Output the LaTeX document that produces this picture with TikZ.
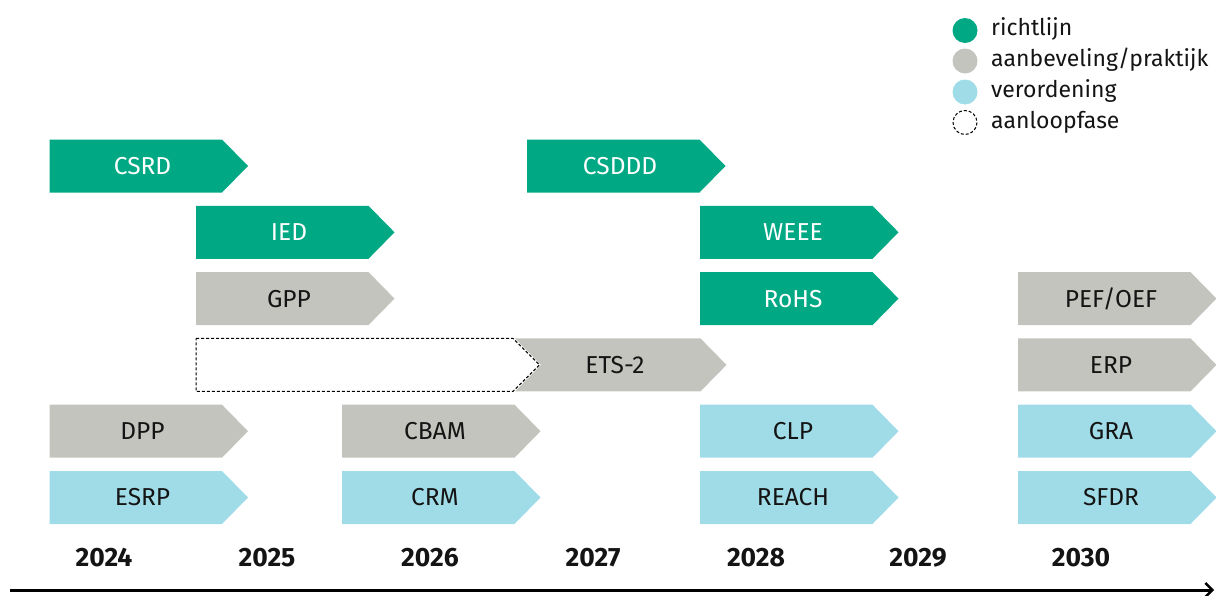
\documentclass[tikz,border=0pt]{standalone}
\usepackage{fontspec}
\setmainfont{Fira Sans}
\usetikzlibrary{arrows.meta}
\definecolor{cgreen}{RGB}{0,169,132}
\definecolor{cgray}{RGB}{196,196,190}
\definecolor{cblue}{RGB}{160,220,232}
\definecolor{ctext}{RGB}{20,20,20}
\newcommand\chev[6]{%
  \fill[#3] (#1,#2) -- ++(172.5,0) -- ++(26,26.5) -- ++(-26,26.5) -- ++(-172.5,0) -- cycle;
  \node[boxtext,text=#6] (#5) at ({#1+93},{#2+26.5}) {#4};}
\begin{document}
\begin{tikzpicture}[x=1pt,y=-1pt,
  boxtext/.style={font=\fontsize{24.5}{28}\selectfont,inner sep=0pt,anchor=center},
  yeartext/.style={text=ctext,font=\fontsize{26.5}{30}\selectfont\bfseries,inner sep=0pt,anchor=center},
  legtext/.style={text=ctext,font=\fontsize{23}{26}\selectfont,inner sep=0pt,anchor=west},
  dashbox/.style={draw=black,line width=1pt,dash pattern=on 3pt off 2pt}]
\useasboundingbox (0,0) rectangle (1216,595);
% legend
\fill[cgreen] (965,30.5) circle (12.5);
\fill[cgray] (965,61) circle (12.5);
\fill[cblue] (965,92) circle (12.5);
\draw[dashbox] (965,122.5) circle (12);
\node[legtext] (l1) at (991,29) {richtlijn};
\node[legtext] (l2) at (991,60) {aanbeveling/praktijk};
\node[legtext] (l3) at (991,91) {verordening};
\node[legtext] (l4) at (991,122) {aanloopfase};
% row 1
\chev{49.5}{139.5}{cgreen}{CSRD}{csrd}{white}
\chev{527}{139.5}{cgreen}{CSDDD}{csddd}{white}
% row 2
\chev{196}{205.8}{cgreen}{IED}{ied}{white}
\chev{700}{205.8}{cgreen}{WEEE}{weee}{white}
% row 3
\chev{196}{272.1}{cgray}{GPP}{gpp}{ctext}
\chev{700}{272.1}{cgreen}{RoHS}{rohs}{white}
\chev{1018}{272.1}{cgray}{PEF/OEF}{pef}{ctext}
% row 4
\fill[cgray] (515,338.4) -- (700.5,338.4) -- (726.5,364.9) -- (700.5,391.4) -- (515,391.4) -- (541,364.9) -- cycle;
\draw[dashbox] (196,338.4) -- (513,338.4) -- (539.5,364.9) -- (513,391.4) -- (196,391.4) -- cycle;
\node[boxtext,text=ctext] (ets) at (615,364.9) {ETS-2};
\chev{1018}{338.4}{cgray}{ERP}{erp}{ctext}
% row 5
\chev{49.5}{404.7}{cgray}{DPP}{dpp}{ctext}
\chev{342}{404.7}{cgray}{CBAM}{cbam}{ctext}
\chev{700}{404.7}{cblue}{CLP}{clp}{ctext}
\chev{1018}{404.7}{cblue}{GRA}{gra}{ctext}
% row 6
\chev{49.5}{471}{cblue}{ESRP}{esrp}{ctext}
\chev{342}{471}{cblue}{CRM}{crm}{ctext}
\chev{700}{471}{cblue}{REACH}{reach}{ctext}
\chev{1018}{471}{cblue}{SFDR}{sfdr}{ctext}
% years
\node[yeartext] (y24) at (104,558) {2024};
\node[yeartext] (y25) at (267,558) {2025};
\node[yeartext] (y26) at (430,558) {2026};
\node[yeartext] (y27) at (593,558) {2027};
\node[yeartext] (y28) at (756,558) {2028};
\node[yeartext] (y29) at (918,558) {2029};
\node[yeartext] (y30) at (1081,558) {2030};
% axis
\coordinate (a0) at (10,590);
\coordinate (a1) at (1214,590);
\draw[line width=3pt,-{Straight Barb[length=7pt,width=14pt,line width=2.4pt]}] (a0) -- (a1);
\end{tikzpicture}
\end{document}
